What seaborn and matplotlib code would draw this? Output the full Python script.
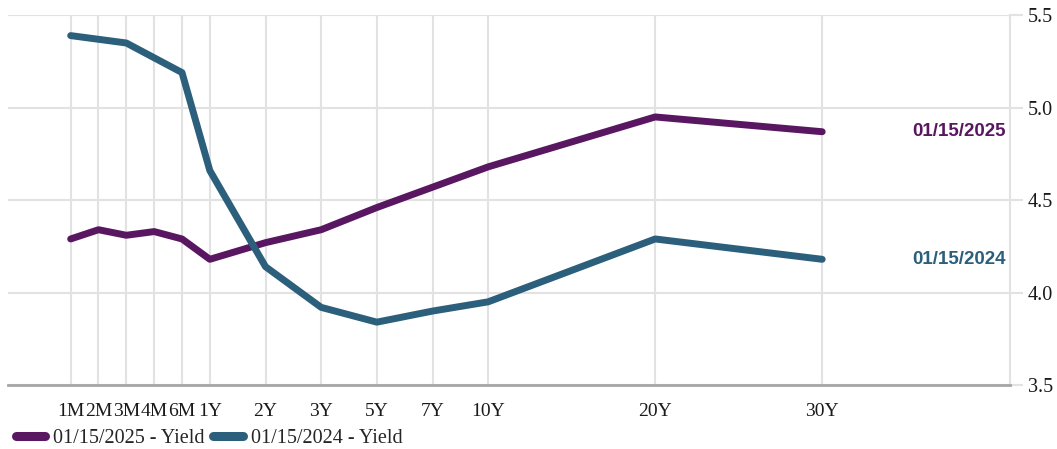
import pandas as pd
import matplotlib.pyplot as plt
import seaborn as sns

# -----------------------------------------------------
# DATA
# -----------------------------------------------------
tenors = ["1M", "2M", "3M", "4M", "6M", "1Y", "2Y", "3Y", "5Y", "7Y", "10Y", "20Y", "30Y"]
# x scale used by the source chart (short end compressed, long end stretched)
tenor_slots = [0, 1, 2, 3, 4, 5, 7, 9, 11, 13, 15, 21, 27]

yield_2025 = [4.29, 4.34, 4.31, 4.33, 4.29, 4.18, 4.27, 4.34, 4.46, 4.57, 4.68, 4.95, 4.87]
yield_2024 = [5.39, 5.37, 5.35, 5.27, 5.19, 4.66, 4.14, 3.92, 3.84, 3.90, 3.95, 4.29, 4.18]

series_names = ["01/15/2025 - Yield", "01/15/2024 - Yield"]
end_labels = ["01/15/2025", "01/15/2024"]
y_ticks = [3.5, 4.0, 4.5, 5.0, 5.5]

PURPLE = "#5A1761"
TEAL = "#2C5F7B"
GRID = "#e2e2e2"

# -----------------------------------------------------
df = pd.concat([
    pd.DataFrame({"slot": tenor_slots, "tenor": tenors, "yield": yield_2025, "series": series_names[0]}),
    pd.DataFrame({"slot": tenor_slots, "tenor": tenors, "yield": yield_2024, "series": series_names[1]}),
])

sns.set_theme(style="whitegrid")
plt.rcParams["font.family"] = ["Liberation Serif", "DejaVu Serif"]

fig = plt.figure(figsize=(10.57, 4.49), dpi=100)
ax = fig.add_axes([0.0076, 0.1425, 0.948, 0.8235])

sns.lineplot(data=df, x="slot", y="yield", hue="series", hue_order=series_names,
             palette=[PURPLE, TEAL], linewidth=5, sort=False, ax=ax, legend=True)
for ln in ax.get_lines():
    ln.set_solid_capstyle("round")
    ln.set_solid_joinstyle("round")

ax.set_xlim(-2.25, 33.75)
ax.set_ylim(3.5, 5.5)
ax.set_xticks(tenor_slots)
ax.set_xticklabels(tenors)
ax.set_yticks(y_ticks)
ax.set_yticklabels([f"{v:.1f}" for v in y_ticks])
ax.yaxis.tick_right()
ax.set_xlabel("")
ax.set_ylabel("")

ax.grid(True, color=GRID, linewidth=1.5)
ax.set_axisbelow(True)
for side in ["left", "top"]:
    ax.spines[side].set_visible(False)
ax.spines["right"].set_color(GRID)
ax.spines["right"].set_linewidth(1.5)
ax.spines["bottom"].set_color("#a6a6a6")
ax.spines["bottom"].set_linewidth(2)

ax.tick_params(axis="x", length=8, width=1.5, color=GRID, pad=5, labelsize=14, labelcolor="#1a1a1a")
ax.tick_params(axis="y", length=9, width=1.5, color=GRID, pad=4, labelsize=14.5, labelcolor="#1a1a1a",
               right=True, left=False)

# end-of-line labels
for lab, vals, col in zip(end_labels, [yield_2025, yield_2024], [PURPLE, TEAL]):
    ax.text(33.6, vals[-1], lab, color=col, fontsize=13.5, fontweight="bold",
            family=["Liberation Sans", "DejaVu Sans"], ha="right", va="center")

# legend along the bottom
handles, labels = ax.get_legend_handles_labels()
ax.get_legend().remove()
leg = fig.legend(handles, labels, loc="lower left", bbox_to_anchor=(0.009, -0.012),
                 ncol=2, frameon=False, fontsize=14.5, handlelength=1.45, handletextpad=0.4,
                 columnspacing=0.45, borderpad=0.2, borderaxespad=0.1)
for ln in leg.get_lines():
    ln.set_linewidth(6.5)
    ln.set_solid_capstyle("round")

fig.savefig("out.png", dpi=100)
